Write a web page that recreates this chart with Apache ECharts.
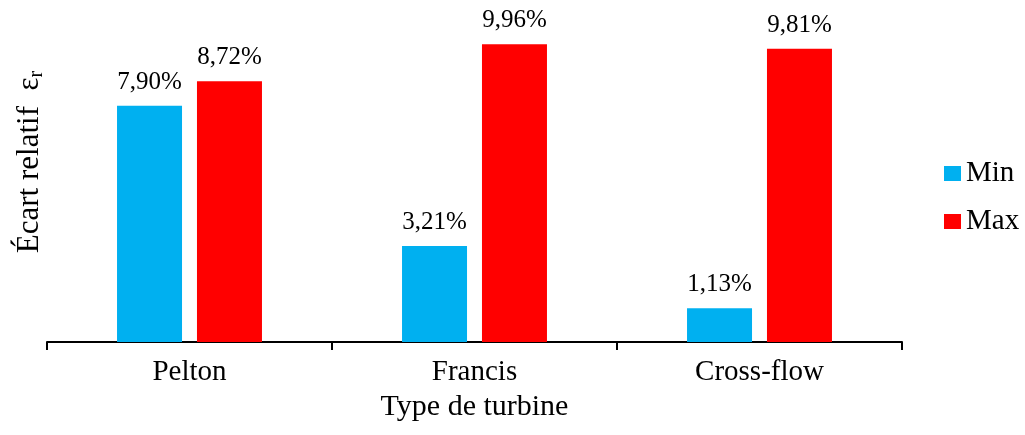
<!DOCTYPE html>
<html>
<head>
<meta charset="utf-8">
<script src="https://cdn.jsdelivr.net/npm/echarts@6/dist/echarts.min.js"></script>
<style>
html,body{margin:0;padding:0;background:#fff;}
#chart{width:1025px;height:435px;}
</style>
</head>
<body>
<div id="chart"></div>
<script>
const categories = ['Pelton', 'Francis', 'Cross-flow'];
const minValues = [7.90, 3.21, 1.13];
const maxValues = [8.72, 9.96, 9.81];
const seriesNames = ['Min', 'Max'];
const xAxisTitle = 'Type de turbine';
const yAxisTitleMain = 'Écart relatif  ε';
const yAxisTitleSub = 'r';

const serif = '"Liberation Serif", "Times New Roman", serif';
const fmt = p => p.value.toFixed(2).replace('.', ',') + '%';

const chart = echarts.init(document.getElementById('chart'));
chart.setOption({
  animation: false,
  backgroundColor: '#ffffff',
  textStyle: { fontFamily: serif, color: '#000' },
  grid: { left: 47, right: 123, top: 43, bottom: 93 },
  legend: {
    orient: 'vertical',
    left: 939,
    top: 154,
    itemWidth: 17,
    itemHeight: 15,
    itemGap: 19,
    icon: 'rect',
    textStyle: { fontFamily: serif, fontSize: 29, color: '#000', lineHeight: 28 },
    data: seriesNames
  },
  xAxis: {
    type: 'category',
    data: categories,
    axisLine: { lineStyle: { color: '#000', width: 2 } },
    axisTick: { show: true, length: 8, lineStyle: { color: '#000', width: 2 } },
    axisLabel: { fontFamily: serif, fontSize: 29, color: '#000', margin: 16 },
    name: xAxisTitle,
    nameLocation: 'middle',
    nameGap: 49,
    nameTextStyle: { fontFamily: serif, fontSize: 30, color: '#000' }
  },
  yAxis: {
    type: 'value',
    min: 0,
    max: 10,
    show: false
  },
  graphic: [{
    type: 'text',
    x: 30,
    y: 162,
    rotation: Math.PI / 2,
    style: {
      text: '{a|' + yAxisTitleMain + '}{s|' + yAxisTitleSub + '}',
      align: 'center',
      verticalAlign: 'middle',
      fill: '#000',
      rich: {
        a: { fontFamily: serif, fontSize: 31, fill: '#000', color: '#000' },
        s: { fontFamily: serif, fontSize: 20, fill: '#000', color: '#000', verticalAlign: 'bottom', padding: [14, 0, 0, 0] }
      }
    }
  }],
  series: [
    {
      name: seriesNames[0],
      type: 'bar',
      data: minValues,
      barWidth: 65,
      barGap: '23%',
      itemStyle: { color: '#00B0F0' },
      label: { show: true, position: 'top', distance: 11, formatter: fmt, fontFamily: serif, fontSize: 25, color: '#000' }
    },
    {
      name: seriesNames[1],
      type: 'bar',
      data: maxValues,
      barWidth: 65,
      barGap: '23%',
      itemStyle: { color: '#FF0000' },
      label: { show: true, position: 'top', distance: 11, formatter: fmt, fontFamily: serif, fontSize: 25, color: '#000' }
    }
  ]
});
</script>
</body>
</html>
